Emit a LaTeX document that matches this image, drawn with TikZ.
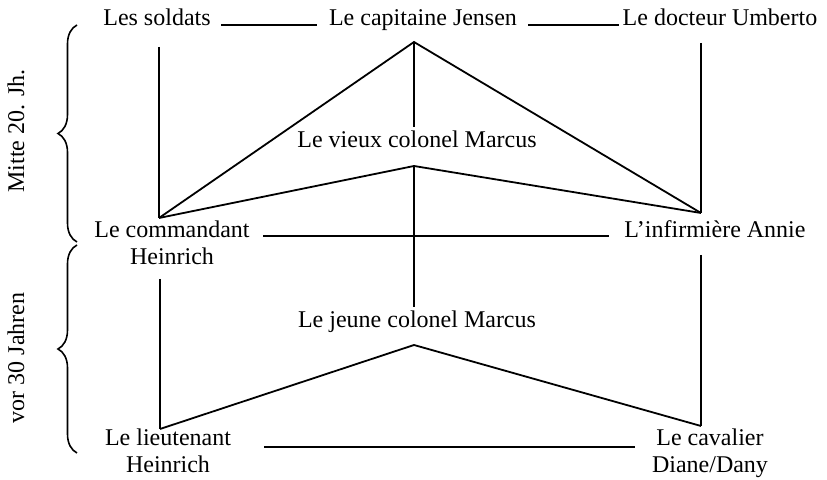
\documentclass[tikz,border=0pt]{standalone}
\usepackage{fontspec}
\setmainfont{Liberation Serif}
\usetikzlibrary{decorations.pathreplacing}
\begin{document}
\begin{tikzpicture}[x=0.5pt,y=-0.5pt,
  lbl/.style={inner sep=0pt, font=\fontsize{12}{13.5}\selectfont, anchor=base, align=center},
  side/.style={inner sep=0pt, font=\fontsize{12}{13.5}\selectfont, rotate=90},
  link/.style={line width=0.9pt},
  bracestyle/.style={line width=0.8pt, decorate, decoration={brace, amplitude=9.5pt}}]
\useasboundingbox (0,0) rectangle (827,480);
% labels (base anchor = baseline of last line)
\node[lbl] (sold) at (157,26) {Les soldats};
\node[lbl] (cap) at (423,26) {Le capitaine Jensen};
\node[lbl] (doc) at (720,26) {Le docteur Umberto};
\node[lbl] (vieux) at (417,148) {Le vieux colonel Marcus};
\node[lbl] (com) at (172,265) {Le commandant\\Heinrich};
\node[lbl] (inf) at (715,238) {L’infirmière Annie};
\node[lbl] (jeune) at (417,328) {Le jeune colonel Marcus};
\node[lbl] (lieut) at (168,473) {Le lieutenant\\Heinrich};
\node[lbl] (cav) at (710,473) {Le cavalier\\Diane/Dany};
\node[side] (mitte) at (16,131) {Mitte 20. Jh.};
\node[side] (vor) at (16,358) {vor 30 Jahren};
% connector points
\coordinate (s1) at (221,25); \coordinate (s2) at (317,25);
\coordinate (d1) at (528,25); \coordinate (d2) at (619,25);
\coordinate (soldB) at (159,47);
\coordinate (docB) at (701,43);
\coordinate (capA) at (414,42); \coordinate (capB) at (414,127);
\coordinate (vieA) at (414,166); \coordinate (vieB) at (414,307);
\coordinate (comT) at (159,218); \coordinate (infT) at (701,213);
\coordinate (h1) at (263,236); \coordinate (h2) at (609,236);
\coordinate (comB) at (160,279); \coordinate (infB) at (701,255);
\coordinate (jeuA) at (414,345);
\coordinate (lieT) at (160,429); \coordinate (cavT) at (701,426);
\coordinate (l1) at (264,447); \coordinate (l2) at (635,447);
% connectors
\draw[link] (s1) -- (s2);
\draw[link] (d1) -- (d2);
\draw[link] (soldB) -- (comT);
\draw[link] (docB) -- (infT);
\draw[link] (comT) -- (capA) -- (infT);
\draw[link] (capA) -- (capB);
\draw[link] (comT) -- (vieA) -- (infT);
\draw[link] (vieA) -- (vieB);
\draw[link] (h1) -- (h2);
\draw[link] (comB) -- (lieT);
\draw[link] (infB) -- (cavT);
\draw[link] (lieT) -- (jeuA) -- (cavT);
\draw[link] (l1) -- (l2);
% braces
\draw[bracestyle] (77,242) -- (77,25);
\draw[bracestyle] (77,453) -- (77,245);
\end{tikzpicture}
\end{document}
